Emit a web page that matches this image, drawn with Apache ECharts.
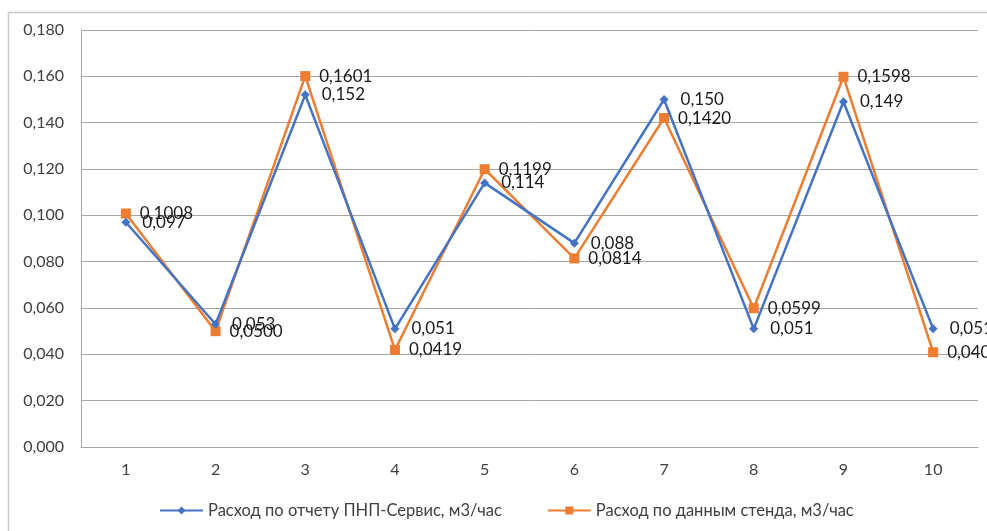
<!DOCTYPE html>
<html>
<head>
<meta charset="utf-8">
<script src="https://cdn.jsdelivr.net/npm/echarts@6/dist/echarts.min.js"></script>
<style>
  html, body { margin: 0; padding: 0; background: #fff; }
  #chart { width: 987px; height: 531px; }
</style>
</head>
<body>
<div id="chart"></div>
<script>
// Measurement points
const categories = ['1', '2', '3', '4', '5', '6', '7', '8', '9', '10'];

// Flow by the PNP-Service report, m3/h
const reportName = 'Расход по отчету ПНП-Сервис, м3/час';
const reportValues = [0.097, 0.053, 0.152, 0.051, 0.114, 0.088, 0.150, 0.051, 0.149, 0.051];

// Flow by the test bench, m3/h
const benchName = 'Расход по данным стенда, м3/час';
const benchValues = [0.1008, 0.0500, 0.1601, 0.0419, 0.1199, 0.0814, 0.1420, 0.0599, 0.1598, 0.0409];

const FONT = 'Lato, "Noto Sans", sans-serif';
const comma = (v, d) => v.toFixed(d).replace('.', ',');

const chart = echarts.init(document.getElementById('chart'), null, { renderer: 'canvas' });

chart.setOption({
  backgroundColor: '#ffffff',
  animation: false,
  graphic: [{
    type: 'rect',
    shape: { x: 8.5, y: 12.5, width: 1100, height: 700 },
    style: { fill: 'none', stroke: '#c8c8c8', lineWidth: 1.5 },
    silent: true,
    z: -1
  }],
  grid: { left: 81, right: 9, top: 30, bottom: 84 },
  legend: {
    bottom: 7,
    left: 154,
    itemGap: 45,
    itemWidth: 43,
    itemHeight: 10,
    textStyle: { fontFamily: FONT, fontSize: 16.5, color: '#404040' },
    data: [reportName, benchName]
  },
  xAxis: {
    type: 'category',
    data: categories,
    boundaryGap: true,
    axisLine: { show: true, lineStyle: { color: '#a6a6a6', width: 1 } },
    axisTick: { show: false },
    axisLabel: { fontFamily: FONT, fontSize: 16, color: '#404040', margin: 15 },
    splitLine: { show: false }
  },
  yAxis: {
    type: 'value',
    min: 0,
    max: 0.18,
    interval: 0.02,
    axisLine: { show: true, lineStyle: { color: '#a6a6a6', width: 1 } },
    axisTick: { show: false },
    axisLabel: {
      fontFamily: FONT, fontSize: 16, color: '#404040', margin: 17,
      formatter: v => comma(v, 3)
    },
    splitLine: { show: true, lineStyle: { color: '#a6a6a6', width: 1 } }
  },
  series: [
    {
      name: reportName,
      type: 'line',
      data: reportValues,
      color: '#4472C4',
      lineStyle: { width: 2.5, color: '#4472C4' },
      symbol: 'diamond',
      symbolSize: 9,
      itemStyle: { color: '#4472C4' },
      label: {
        show: true,
        position: 'right',
        distance: 12,
        fontFamily: FONT,
        fontSize: 17,
        color: '#1a1a1a',
        formatter: p => comma(p.value, 3)
      },
      z: 3
    },
    {
      name: benchName,
      type: 'line',
      data: benchValues,
      color: '#ED7D31',
      lineStyle: { width: 2.5, color: '#ED7D31' },
      symbol: 'rect',
      symbolSize: 10,
      itemStyle: { color: '#ED7D31' },
      label: {
        show: true,
        position: 'right',
        distance: 9,
        fontFamily: FONT,
        fontSize: 17,
        color: '#1a1a1a',
        formatter: p => comma(p.value, 4)
      },
      z: 2
    }
  ]
});
</script>
</body>
</html>
